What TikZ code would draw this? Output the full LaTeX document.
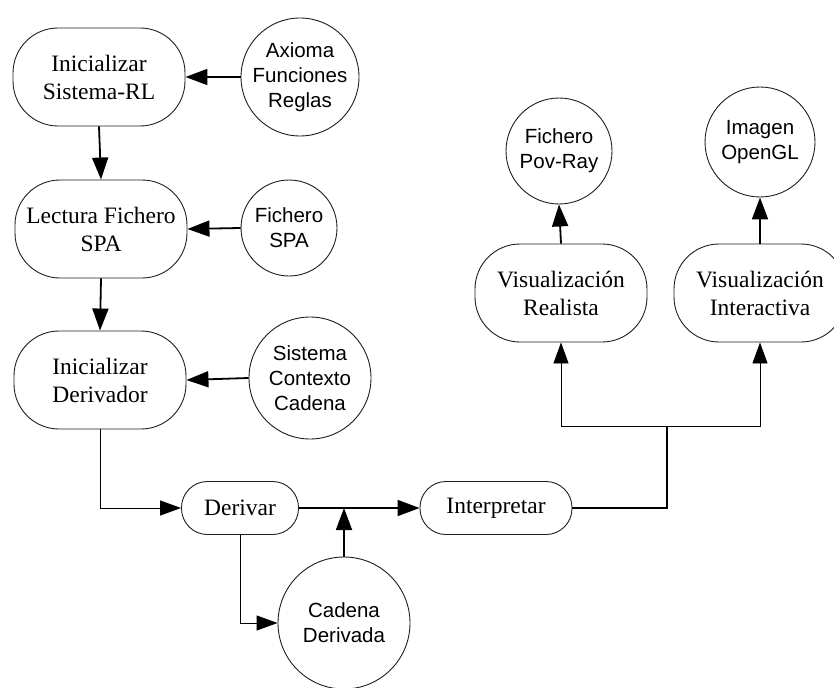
\documentclass[tikz,border=0pt]{standalone}
\usepackage{fontspec}
\setmainfont{Liberation Serif}
\setsansfont{Liberation Sans}
\usetikzlibrary{arrows.meta, calc}
\definecolor{border}{RGB}{30,30,30}
\tikzset{
    proceso/.style={
        rectangle,
        rounded corners=45pt,
        draw=border,
        line width=0.9pt,
        align=center,
        inner sep=0pt,
        minimum width=172pt,
        minimum height=98pt,
        font=\fontsize{23.5}{28}\selectfont
    },
    procesochico/.style={
        proceso,
        rounded corners=26pt,
        minimum height=53pt
    },
    dato/.style={
        circle,
        draw=border,
        line width=0.9pt,
        align=center,
        inner sep=0pt,
        font=\sffamily\fontsize{20.5}{25}\selectfont
    }
}

\begin{document}
\begin{tikzpicture}[
    x=1pt, y=-1pt,
    arrow/.style={
        -{Triangle[length=22pt,width=16pt]},
        line width=1.8pt
    },
    thinarrow/.style={
        -{Triangle[length=21pt,width=15pt]},
        line width=0.9pt
    }
]
\clip (0,0) rectangle (834,687);

% =========================
% Columna izquierda
% =========================
\node[proceso] (inisis) at (99,77) {Inicializar\\Sistema-RL};
\node[proceso] (lectura) at (101,229) {Lectura Fichero\\SPA};
\node[proceso] (iniderv) at (100,380) {Inicializar\\Derivador};

\node[dato, minimum size=118pt] (axioma) at (300,77) {Axioma\\Funciones\\Reglas};
\node[dato, minimum size=96pt] (fichspa) at (289,228) {Fichero\\SPA};
\node[dato, minimum size=122pt] (sistema) at (310,378) {Sistema\\Contexto\\Cadena};

% =========================
% Derivacion e interpretacion
% =========================
\node[procesochico, minimum width=117pt] (derivar) at (240,508) {Derivar};
\node[procesochico, minimum width=152pt] (interp) at (496,508) {Interpretar};
\node[dato, minimum size=132pt] (cadena) at (344,623) {Cadena\\Derivada};

% =========================
% Visualizacion
% =========================
\node[proceso] (vreal) at (561,293) {Visualización\\Realista};
\node[proceso] (vinter) at (760,293) {Visualización\\Interactiva};

\node[dato, minimum size=106pt] (povray) at (559,151) {Fichero\\Pov-Ray};
\node[dato, minimum size=110pt] (opengl) at (760,142) {Imagen\\OpenGL};

% =========================
% Flechas
% =========================
\draw[arrow] (axioma.west) -- (inisis.east);
\draw[arrow] (fichspa.west) -- (lectura.east);
\draw[arrow] (sistema.west) -- (iniderv.east);

\draw[arrow] (inisis.south) -- (lectura.north);
\draw[arrow] (lectura.south) -- (iniderv.north);

\draw[thinarrow] (iniderv.south) |- (derivar.west);
\draw[thinarrow] (derivar.south) |- (cadena.west);

\draw[arrow] (derivar.east) -- (interp.west);
\coordinate (union) at (cadena.north |- derivar.east);
\draw[arrow] (cadena.north) -- (union);

% Bifurcacion hacia las dos visualizaciones
\coordinate (bifur) at (667,426);
\draw[line width=1.8pt] (interp.east) -| (bifur);
\draw[thinarrow] (bifur) -| (vreal.south);
\draw[thinarrow] (bifur) -| (vinter.south);

\draw[arrow] (vreal.north) -- (povray.south);
\draw[arrow] (vinter.north) -- (opengl.south);

\end{tikzpicture}
\end{document}
